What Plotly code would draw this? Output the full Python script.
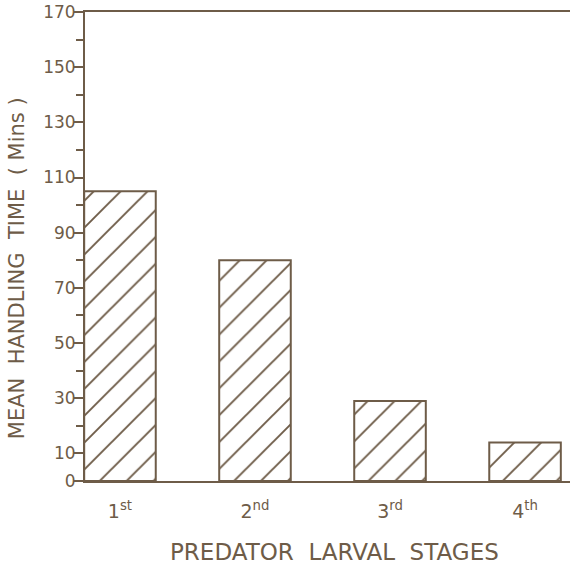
import plotly.graph_objects as go

# Mean handling time per predator larval stage
stages = ["1<sup>st</sup>", "2<sup>nd</sup>", "3<sup>rd</sup>", "4<sup>th</sup>"]
handling_time = [105, 80, 29, 14]

y_label_vals = [0, 10, 30, 50, 70, 90, 110, 130, 150, 170]
y_minor_vals = [20, 40, 60, 80, 100, 120, 140, 160]

x_title = "PREDATOR  LARVAL  STAGES"
y_title = "MEAN  HANDLING  TIME  ( Mins )"

ink = "#6e5c48"
font_family = "DejaVu Sans"

fig = go.Figure(
    go.Bar(
        x=list(range(len(stages))),
        y=handling_time,
        width=0.53,
        marker=dict(
            color="white",
            line=dict(color=ink, width=2),
            pattern=dict(shape="/", fgcolor=ink, fgopacity=1, bgcolor="white",
                         size=19, solidity=0.1),
        ),
        hoverinfo="skip",
    )
)

fig.update_layout(
    width=570,
    height=570,
    margin=dict(l=85, r=0, t=12, b=89),
    paper_bgcolor="white",
    plot_bgcolor="white",
    showlegend=False,
    font=dict(family=font_family, color=ink),
)

fig.update_xaxes(
    range=[-0.259, 3.333],
    tickmode="array",
    tickvals=list(range(len(stages))),
    ticktext=stages,
    ticks="",
    tickfont=dict(size=19, color=ink),
    ticklabelstandoff=12,
    showline=True,
    linecolor=ink,
    linewidth=2,
    mirror=True,
    showgrid=False,
    zeroline=False,
)

fig.update_yaxes(
    range=[0, 170],
    tickmode="array",
    tickvals=y_label_vals,
    ticks="outside",
    ticklen=9,
    tickwidth=2,
    tickcolor=ink,
    tickfont=dict(size=17, color=ink),
    ticklabelstandoff=-5,
    minor=dict(tickmode="array", tickvals=y_minor_vals, ticks="outside", ticklen=7,
               tickwidth=2, tickcolor=ink, showgrid=False),
    showline=True,
    linecolor=ink,
    linewidth=2,
    mirror=False,
    showgrid=False,
    zeroline=False,
)

# Axis titles placed as annotations so their centres can be set freely
fig.add_annotation(
    text=x_title, xref="paper", yref="paper", x=0.515, y=-0.151,
    xanchor="center", yanchor="middle", showarrow=False,
    font=dict(size=23, color=ink, family=font_family),
)
fig.add_annotation(
    text=y_title, xref="paper", yref="paper", x=-0.140, y=0.454,
    xanchor="center", yanchor="middle", textangle=-90, showarrow=False,
    font=dict(size=21, color=ink, family=font_family),
)

fig.write_html("out.html")
